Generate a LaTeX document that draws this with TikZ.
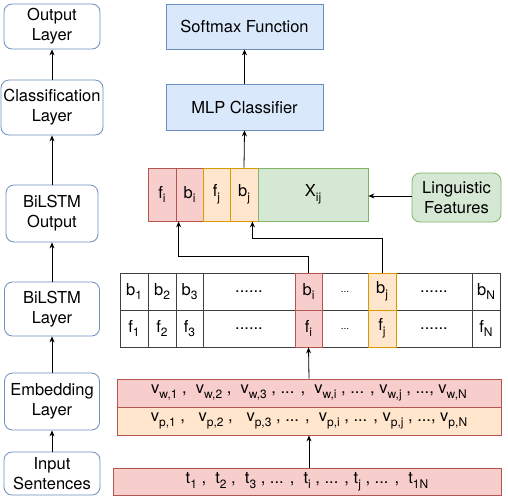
\documentclass[tikz,border=0pt]{standalone}
\usepackage{fontspec}
\setmainfont{TeX Gyre Heros}
\usepackage{tikz}
\usetikzlibrary{arrows.meta}

\definecolor{blueline}{HTML}{6C8EBF}
\definecolor{bluefill}{HTML}{DAE8FC}
\definecolor{redline}{HTML}{B85450}
\definecolor{redfill}{HTML}{F8CECC}
\definecolor{orangeline}{HTML}{D79B00}
\definecolor{orangefill}{HTML}{FFE6CC}
\definecolor{greenline}{HTML}{82B366}
\definecolor{greenfill}{HTML}{D5E8D4}

\newcommand{\lbl}{\fontsize{16.5}{20}\selectfont}
\newcommand{\lowsub}[1]{\raisebox{-0.55ex}{\fontsize{12}{12}\selectfont #1}}

\begin{document}
\begin{tikzpicture}[x=1pt,y=-1pt,line width=0.8pt,
  layer/.style={draw=blueline, fill=white, rounded corners=8pt, align=center,
    font=\lbl, inner sep=0pt},
  blockbox/.style={draw=blueline, fill=bluefill, font=\lbl, inner sep=0pt},
  cell/.style={draw=black!75, fill=white, minimum height=37pt, inner sep=0pt, font=\lbl},
  redcell/.style={cell, draw=redline, fill=redfill},
  orangecell/.style={cell, draw=orangeline, fill=orangefill},
  featcell/.style={minimum height=53pt, inner sep=0pt, font=\lbl},
  rowbox/.style={draw=redline, minimum width=384pt, minimum height=28pt,
    inner sep=0pt, font=\lbl},
  arr/.style={-{Stealth[length=6pt,width=5pt]}, line width=0.8pt}]
\useasboundingbox (0,0) rectangle (508,496);

% left column of layers
\node[layer, minimum width=96pt, minimum height=45pt] (out) at (52,26.5) {Output\\Layer};
\node[layer, minimum width=102pt, minimum height=55pt] (cls) at (52,107.5) {Classification\\Layer};
\node[layer, minimum width=92pt, minimum height=57pt] (bout) at (52,213.5) {BiLSTM\\Output};
\node[layer, minimum width=95pt, minimum height=54pt] (blay) at (52,309) {BiLSTM\\Layer};
\node[layer, minimum width=95pt, minimum height=57pt] (emb) at (52,401.5) {Embedding\\Layer};
\node[layer, minimum width=96pt, minimum height=43pt] (inp) at (52,473.5) {Input\\Sentences};
\draw[arr] (inp) -- (emb);
\draw[arr] (emb) -- (blay);
\draw[arr] (blay) -- (bout);
\draw[arr] (bout) -- (cls);
\draw[arr] (cls) -- (out);

% classifier blocks
\node[blockbox, minimum width=157pt, minimum height=45pt] (soft) at (244.5,26.5) {Softmax Function};
\node[blockbox, minimum width=157pt, minimum height=46pt] (mlp) at (244.5,107) {MLP Classifier};

% concatenated features
\node[featcell, draw=redline, fill=redfill, minimum width=28pt] (cfi) at (162,194.5) {f\lowsub{i}};
\node[featcell, draw=redline, fill=redfill, minimum width=27pt] (cbi) at (189.5,194.5) {b\lowsub{i}};
\node[featcell, draw=orangeline, fill=orangefill, minimum width=27pt] (cfj) at (216.5,194.5) {f\lowsub{j}};
\node[featcell, draw=orangeline, fill=orangefill, minimum width=28pt] (cbj) at (244,194.5) {b\lowsub{j}};
\node[featcell, draw=greenline, fill=greenfill, minimum width=110pt] (cx) at (313,194.5) {X\lowsub{ij}};
\node[draw=greenline, fill=greenfill, rounded corners=8pt, align=center, font=\lbl,
  inner sep=0pt, minimum width=89pt, minimum height=49pt] (ling) at (456.5,197.5) {Linguistic\\Features};
\draw[arr] (ling.west |- 0,196) -- (cx.east |- 0,196);
\draw[arr] (cbj.north) -- (mlp.south);
\draw[arr] (mlp.north) -- (soft.south);

% BiLSTM outputs table
\node[cell, minimum width=28pt] (tb1) at (134,291.5) {b\lowsub{1}};
\node[cell, minimum width=28pt] (tf1) at (134,328.5) {f\lowsub{1}};
\node[cell, minimum width=28pt] (tb2) at (162,291.5) {b\lowsub{2}};
\node[cell, minimum width=28pt] (tf2) at (162,328.5) {f\lowsub{2}};
\node[cell, minimum width=27pt] (tb3) at (189.5,291.5) {b\lowsub{3}};
\node[cell, minimum width=27pt] (tf3) at (189.5,328.5) {f\lowsub{3}};
\node[cell, minimum width=92pt] (tbd) at (249,291.5) {......};
\node[cell, minimum width=92pt] (tfd) at (249,328.5) {......};
\node[cell, minimum width=46pt, font=\fontsize{10}{12}\selectfont] (tbe) at (345,291.5) {...};
\node[cell, minimum width=46pt, font=\fontsize{10}{12}\selectfont] (tfe) at (345,328.5) {...};
\node[cell, minimum width=76pt] (tbf) at (434,291.5) {......};
\node[cell, minimum width=76pt] (tff) at (434,328.5) {......};
\node[cell, minimum width=28pt] (tbN) at (486,291.5) {b\lowsub{N}};
\node[cell, minimum width=28pt] (tfN) at (486,328.5) {f\lowsub{N}};
\node[redcell, minimum width=27pt] (tbi) at (308.5,291.5) {b\lowsub{i}};
\node[redcell, minimum width=27pt] (tfi) at (308.5,328.5) {f\lowsub{i}};
\node[orangecell, minimum width=28pt] (tbj) at (382,291.5) {b\lowsub{j}};
\node[orangecell, minimum width=28pt] (tfj) at (382,328.5) {f\lowsub{j}};
\draw[arr] (tbi.north) -- ++(0,-16) -| ([xshift=3pt]cbi.south west);
\draw[arr] (tbj.north) -- ++(0,-34) -| ([xshift=-6pt]cbj.south east);

% embeddings and tokens
\node[rowbox, fill=redfill] (vw) at (309,393)
  {v\lowsub{w,1} ,\ \ v\lowsub{w,2} ,\ \ v\lowsub{w,3} , ... ,\ \ v\lowsub{w,i} , ... , v\lowsub{w,j} , ..., v\lowsub{w,N}};
\node[rowbox, fill=orangefill] (vp) at (309,421)
  {v\lowsub{p,1} ,\ \ \ v\lowsub{p,2} ,\ \ \ v\lowsub{p,3} , ... ,\ \ v\lowsub{p,i} , ... , v\lowsub{p,j} , ..., v\lowsub{p,N}};
\node[rowbox, fill=redfill, minimum width=388pt, minimum height=27pt] (tok) at (307,481.5)
  {t\lowsub{1} ,\ \ t\lowsub{2} ,\ \ t\lowsub{3} , ... ,\ \ t\lowsub{i} , ... , t\lowsub{j} , ... ,\ \ t\lowsub{1N}};
\draw[arr] (vw.north) -- (tfi.south);
\draw[arr] (vp.south |- tok.north) -- (vp.south);
\end{tikzpicture}
\end{document}
